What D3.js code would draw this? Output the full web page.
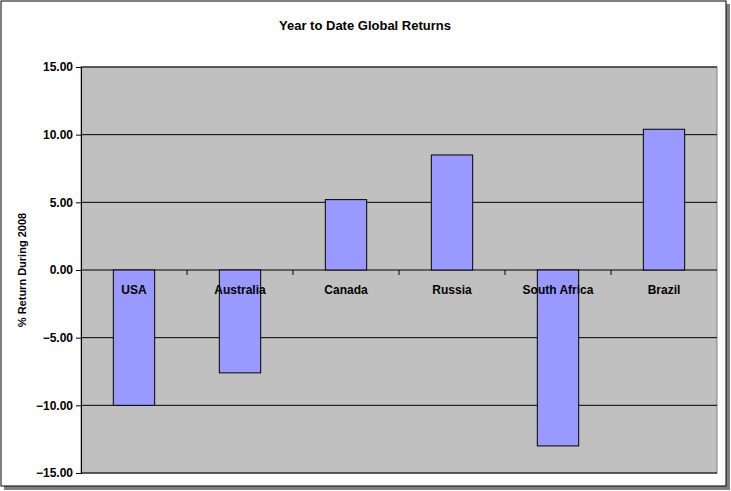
<!DOCTYPE html>
<html><head><meta charset="utf-8">
<script src="https://cdnjs.cloudflare.com/ajax/libs/d3/7.8.5/d3.min.js"></script>
<style>body{margin:0;background:#fff}text{font-family:"Liberation Sans",Arial,sans-serif;font-weight:bold}</style>
</head><body><svg id="chart" width="731" height="491"></svg>
<script>
const countries = ["USA", "Australia", "Canada", "Russia", "South Africa", "Brazil"];
const returns = [-10.0, -7.6, 5.2, 8.5, -13.0, 10.4];
const yTicks = [-15, -10, -5, 0, 5, 10, 15];

const svg = d3.select("#chart");
// outer frame with shadow
svg.append("rect").attr("x", 4).attr("y", 4).attr("width", 726).attr("height", 486).attr("fill", "#808080");
svg.append("rect").attr("x", 1).attr("y", 1).attr("width", 725).attr("height", 485)
  .attr("fill", "#fff").attr("stroke", "#000").attr("stroke-width", 1);

const pLeft = 81, pRight = 717, pTop = 67, pBottom = 473;
const x = d3.scaleBand().domain(countries).range([pLeft, pRight]).paddingInner(0.61).paddingOuter(0.305);
const y = d3.scaleLinear().domain([-15, 15]).range([pBottom, pTop]);

svg.append("rect").attr("x", pLeft).attr("y", pTop).attr("width", pRight - pLeft).attr("height", pBottom - pTop)
  .attr("fill", "#c0c0c0").attr("stroke", "#808080");

svg.append("g").selectAll("line").data(yTicks).join("line")
  .attr("x1", pLeft).attr("x2", pRight).attr("y1", d => y(d)).attr("y2", d => y(d))
  .attr("stroke", "#000").attr("stroke-width", 1);

svg.append("g").selectAll("rect").data(returns).join("rect")
  .attr("x", (d, i) => x(countries[i])).attr("width", x.bandwidth())
  .attr("y", d => y(Math.max(0, d))).attr("height", d => Math.abs(y(d) - y(0)))
  .attr("fill", "#9999ff").attr("stroke", "#000");

const yAxis = svg.append("g").attr("transform", `translate(${pLeft},0)`)
  .call(d3.axisLeft(y).tickValues(yTicks).tickFormat(d3.format(".2f")).tickSize(5));
yAxis.select(".domain").attr("stroke", "#000");
yAxis.selectAll("text").style("font-size", "12px").style("font-family", "Liberation Sans, Arial, sans-serif").style("font-weight", "bold");

// category labels sit just below the zero line
svg.append("g").selectAll("text").data(countries).join("text")
  .attr("x", d => x(d) + x.bandwidth() / 2).attr("y", y(0) + 24)
  .attr("text-anchor", "middle").style("font-size", "12px").text(d => d);
const gap = (x.step() - x.bandwidth()) / 2;
svg.append("g").selectAll("line").data(countries.slice(1)).join("line")
  .attr("x1", d => x(d) - gap).attr("x2", d => x(d) - gap)
  .attr("y1", y(0)).attr("y2", y(0) + 5).attr("stroke", "#000");

svg.append("text").attr("x", 365).attr("y", 30).attr("text-anchor", "middle")
  .style("font-size", "13px").text("Year to Date Global Returns");
svg.append("text").attr("transform", `translate(26,${(pTop + pBottom) / 2}) rotate(-90)`)
  .attr("text-anchor", "middle").style("font-size", "11px").text("% Return During 2008");
</script></body></html>
